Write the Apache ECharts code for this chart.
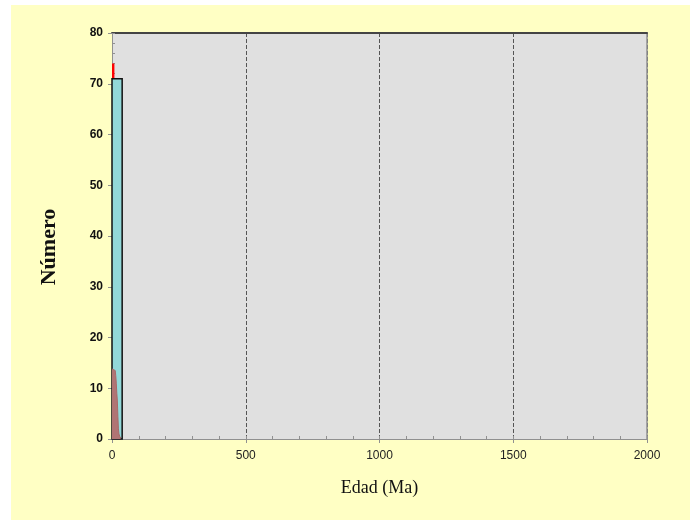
<!DOCTYPE html>
<html><head><meta charset="utf-8">
<script src="https://cdn.jsdelivr.net/npm/echarts@6/dist/echarts.min.js"></script>
<style>html,body{margin:0;padding:0;background:#fff}#c{width:690px;height:520px}</style>
</head><body><div id="c"></div>
<script>
// Histogram bins: [start, end, count]
const cyanBins = [[0, 38, 71]];
const redBins = [[0, 9, 74]];
// Density-like curve (age, value)
const kdeX = [0, 7, 12, 14, 16, 18, 20, 22, 24, 26, 29, 33];
const kdeY = [13.8, 13.8, 13.5, 12.5, 11, 9, 7.5, 4.5, 2, 1, 0.5, 0.2];
const xTicks = [0, 500, 1000, 1500, 2000];
const yTicks = [0, 10, 20, 30, 40, 50, 60, 70, 80];

const chart = echarts.init(document.getElementById('c'), null, {renderer: 'canvas'});
function barItem(fill, stroke, lw) {
  return function (params, api) {
    const p0 = api.coord([api.value(0), 0]);
    const p1 = api.coord([api.value(1), api.value(2)]);
    return {type: 'rect', shape: {x: p0[0], y: p1[1], width: p1[0] - p0[0], height: p0[1] - p1[1]},
      style: {fill: fill, stroke: stroke, lineWidth: lw}};
  };
}
const grid = {left: 112, top: 33, width: 535, height: 406};
chart.setOption({
  backgroundColor: '#ffffff',
  animation: false,
  graphic: [
    {type: 'rect', z: -10, shape: {x: 11, y: 5, width: 679, height: 515}, style: {fill: '#FFFFC4'}},
    {type: 'rect', z: -9, shape: {x: 112, y: 33, width: 535, height: 406}, style: {fill: '#E0E0E0'}},
    {type: 'text', x: 49, y: 247, rotation: Math.PI / 2,
      style: {text: 'Número', font: 'bold 22px "Liberation Serif", "Times New Roman", serif', fill: '#111',
        align: 'center', verticalAlign: 'middle'}}
  ],
  grid: grid,
  xAxis: [
    {type: 'value', min: 0, max: 2000, interval: 500, position: 'bottom',
      name: 'Edad (Ma)', nameLocation: 'middle', nameGap: 40,
      nameTextStyle: {fontFamily: '"Liberation Serif", serif', fontSize: 18, color: '#111'},
      axisLine: {show: true, onZero: false, lineStyle: {color: '#909090', width: 1}},
      axisTick: {show: true, length: 4, lineStyle: {color: '#909090'}},
      axisLabel: {color: '#222', fontFamily: '"Liberation Sans", Arial, sans-serif', fontSize: 12, margin: 11,
        formatter: v => String(v)},
      splitLine: {show: true, lineStyle: {color: '#555', type: [4, 2], width: 1}}},
    {type: 'value', min: 0, max: 2000, interval: 100, position: 'bottom',
      axisLine: {show: false, onZero: false}, axisLabel: {show: false}, splitLine: {show: false},
      axisTick: {show: true, inside: true, length: 3, lineStyle: {color: '#909090'}}},
    {type: 'value', min: 0, max: 2000, position: 'top',
      axisLine: {show: true, onZero: false, lineStyle: {color: '#444', width: 2}},
      axisTick: {show: false}, axisLabel: {show: false}, splitLine: {show: false}}
  ],
  yAxis: [
    {type: 'value', min: 0, max: 80, interval: 10, position: 'left',
      axisLine: {show: true, onZero: false, lineStyle: {color: '#909090', width: 1}},
      axisTick: {show: true, length: 4, lineStyle: {color: '#909090'}},
      axisLabel: {color: '#111', fontFamily: '"Liberation Sans", Arial, sans-serif', fontWeight: 'bold', fontSize: 12, margin: 9},
      splitLine: {show: false}},
    {type: 'value', min: 0, max: 80, interval: 2, position: 'left',
      axisLine: {show: false, onZero: false}, axisLabel: {show: false}, splitLine: {show: false},
      axisTick: {show: true, inside: true, length: 3, lineStyle: {color: '#909090'}}},
    {type: 'value', min: 0, max: 80, position: 'right',
      axisLine: {show: true, onZero: false, lineStyle: {color: '#909090', width: 1.5}},
      axisTick: {show: false}, axisLabel: {show: false}, splitLine: {show: false}}
  ],
  series: [
    {type: 'custom', data: redBins, renderItem: barItem('#FF0000', '#FF0000', 0), encode: {x: [0, 1], y: 2}, z: 2},
    {type: 'custom', data: cyanBins, renderItem: barItem('#92D8D8', '#111', 1.5), encode: {x: [0, 1], y: 2}, z: 3},
    {type: 'line', data: kdeX.map((x, i) => [x, kdeY[i]]), showSymbol: false, z: 4,
      lineStyle: {color: '#A86868', width: 1}, areaStyle: {color: '#B07474', opacity: 1}}
  ]
});
</script></body></html>
